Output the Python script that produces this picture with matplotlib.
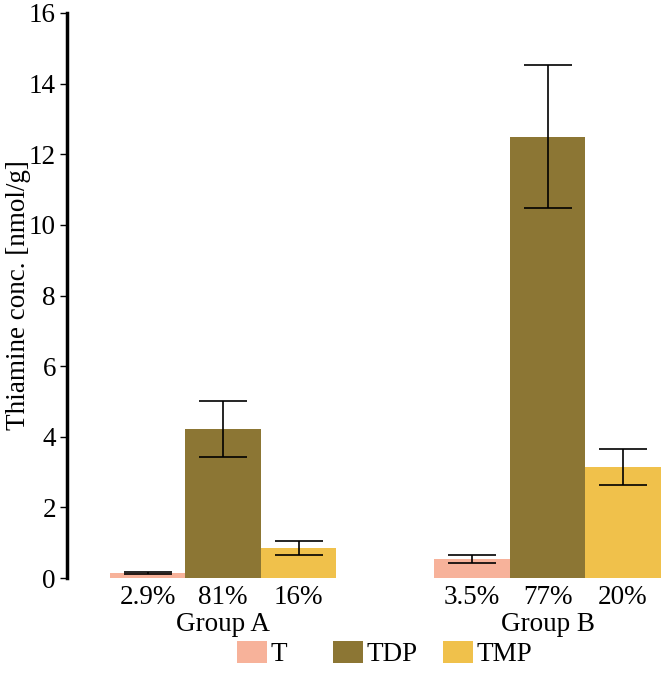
import numpy as np
import matplotlib.pyplot as plt
from matplotlib.patches import Patch

plt.rcParams['font.family'] = ['Liberation Serif', 'DejaVu Serif']

# ---------- DATA ----------
groups = ['Group A', 'Group B']
series = ['T', 'TDP', 'TMP']
values = {
    'T':   [0.14, 0.54],
    'TDP': [4.22, 12.5],
    'TMP': [0.85, 3.14],
}
errors = {
    'T':   [0.04, 0.115],
    'TDP': [0.79, 2.03],
    'TMP': [0.21, 0.52],
}
percents = {
    'T':   ['2.9%', '3.5%'],
    'TDP': ['81%', '77%'],
    'TMP': ['16%', '20%'],
}
colors = {'T': '#F7B29A', 'TDP': '#8C7634', 'TMP': '#F0C14B'}

group_pos = np.array([0.0, 4.3])
fs = 19.5

# ---------- PLOT ----------
fig = plt.figure(figsize=(6.66, 6.73), dpi=100)
ax = fig.add_axes([67 / 666, 95 / 673, 599 / 666, 565 / 673])

tick_pos, tick_lab = [], []
for i, s in enumerate(series):
    x = group_pos + i
    ax.bar(x, values[s], width=1.0, color=colors[s], edgecolor='none')
    ax.errorbar(x, values[s], yerr=errors[s], fmt='none', ecolor='black',
                elinewidth=1.2, capsize=17, capthick=1.2)
    tick_pos.extend(x)
    tick_lab.extend(percents[s])

ax.set_xticks(tick_pos)
ax.set_xticklabels(tick_lab, fontsize=fs)
ax.tick_params(axis='x', length=0, pad=5)

for g, p in zip(groups, group_pos):
    ax.text(p + 1, -0.06, g, transform=ax.get_xaxis_transform(),
            ha='center', va='top', fontsize=fs)

ax.set_xlim(-1.07, 6.87)
ax.set_ylim(0, 16)
ax.set_yticks(np.arange(0, 17, 2))
ax.tick_params(axis='y', labelsize=fs, length=5, width=1, direction='out', pad=3)
ax.set_ylabel('Thiamine conc. [nmol/g]', fontsize=fs)
ax.yaxis.set_label_coords(-0.06, 0.5)

for side in ['top', 'right', 'bottom']:
    ax.spines[side].set_visible(False)
ax.spines['left'].set_linewidth(2.5)

# legend entries placed at fixed spacing below the plot
leg_x = [237, 333, 443]
for s, lx in zip(series, leg_x):
    fig.legend(handles=[Patch(facecolor=colors[s], edgecolor='none')],
               labels=[s], loc='center left',
               bbox_to_anchor=(lx / 666, 0.028), frameon=False,
               fontsize=fs, handlelength=1.1, handleheight=0.85,
               handletextpad=0.12, borderpad=0, borderaxespad=0)

fig.savefig('out.png', dpi=100)
